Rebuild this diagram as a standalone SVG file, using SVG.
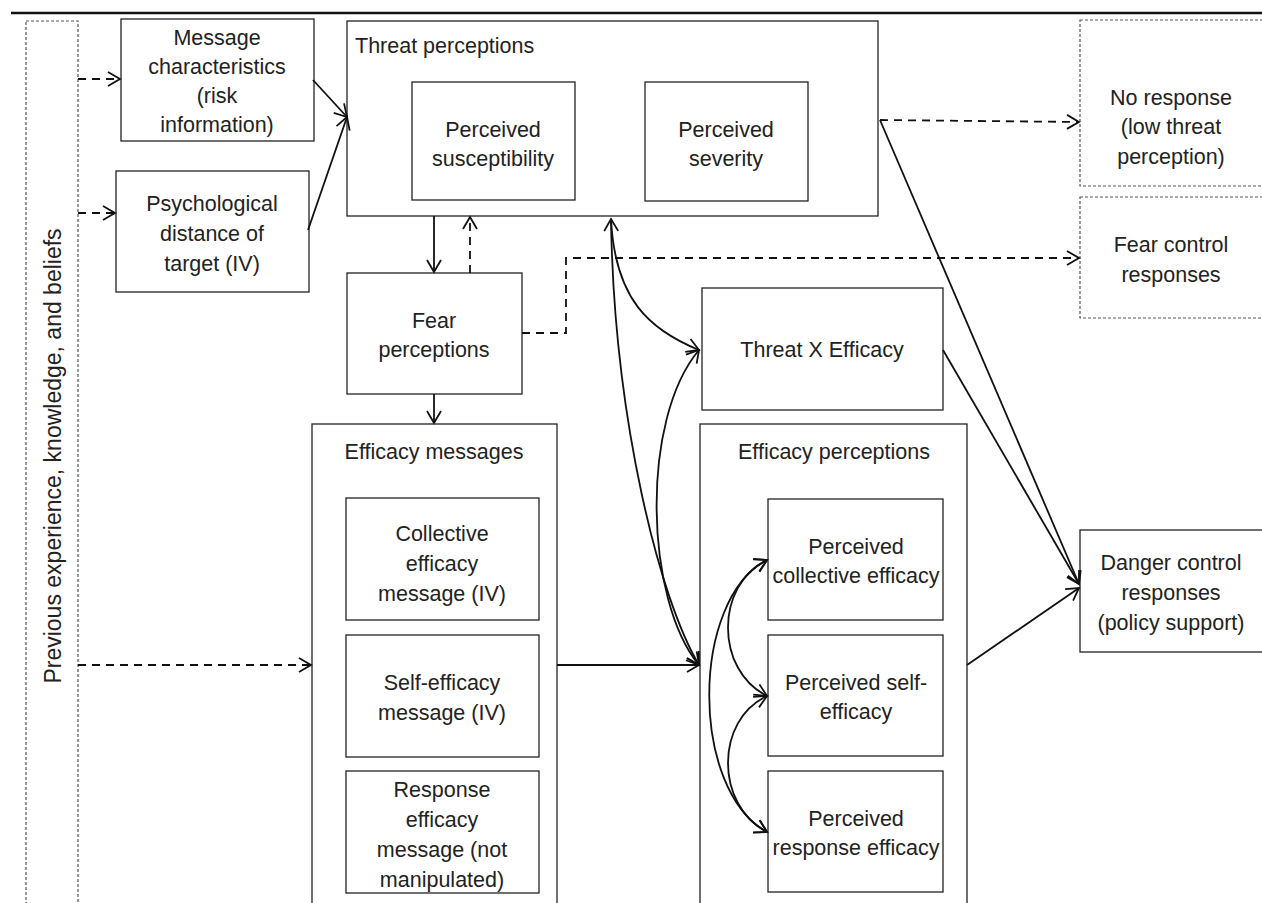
<svg xmlns="http://www.w3.org/2000/svg" width="1262" height="903" viewBox="0 0 1262 903">
<style>
.box{fill:#fff;stroke:#222;stroke-width:1.3}
.dbox{fill:#fff;stroke:#555;stroke-width:1.2;stroke-dasharray:3,2}
.t{font-family:"Liberation Sans",Arial,sans-serif;font-size:21.5px;fill:#222;text-anchor:middle}
.tl{font-family:"Liberation Sans",Arial,sans-serif;font-size:21.5px;fill:#222}
.ln{fill:none;stroke:#111;stroke-width:1.8}
.dl{fill:none;stroke:#111;stroke-width:1.8;stroke-dasharray:8,6}
</style>
<defs>
<marker id="ah" markerUnits="userSpaceOnUse" markerWidth="16" markerHeight="18" refX="13" refY="8" orient="auto-start-reverse" overflow="visible">
<path d="M1,1 L13,8 L1,15" fill="none" stroke="#111" stroke-width="1.8"/>
</marker>
</defs>
<rect width="1262" height="903" fill="#fff"/>
<line x1="11" y1="13" x2="1262" y2="13" stroke="#111" stroke-width="2.5"/>

<g id="prev">
<rect class="dbox" x="26" y="21" width="52" height="900"/>
<text class="t" style="font-size:23px" transform="translate(61,456) rotate(-90)">Previous experience, knowledge, and beliefs</text>
</g>
<g id="msgchar">
<rect class="box" x="121" y="19" width="193" height="122"/>
<text class="t" x="217" y="45">Message</text>
<text class="t" x="217" y="74">characteristics</text>
<text class="t" x="217" y="103">(risk</text>
<text class="t" x="217" y="132">information)</text>
</g>
<g id="psych">
<rect class="box" x="116" y="171" width="193" height="121"/>
<text class="t" x="212" y="211">Psychological</text>
<text class="t" x="212" y="241">distance of</text>
<text class="t" x="212" y="271">target (IV)</text>
</g>
<g id="threat">
<rect class="box" x="347" y="21" width="531" height="195"/>
<text class="tl" x="355" y="53">Threat perceptions</text>
<rect class="box" x="412" y="82" width="163" height="118"/>
<text class="t" x="493" y="137">Perceived</text>
<text class="t" x="493" y="166">susceptibility</text>
<rect class="box" x="645" y="82" width="163" height="119"/>
<text class="t" x="726" y="137">Perceived</text>
<text class="t" x="726" y="166">severity</text>
</g>
<g id="noresp">
<rect class="dbox" x="1080" y="20" width="200" height="166"/>
<text class="t" x="1171" y="105">No response</text>
<text class="t" x="1171" y="134">(low threat</text>
<text class="t" x="1171" y="164">perception)</text>
</g>
<g id="fearctrl">
<rect class="dbox" x="1080" y="197" width="200" height="121"/>
<text class="t" x="1171" y="252">Fear control</text>
<text class="t" x="1171" y="282">responses</text>
</g>
<g id="fear">
<rect class="box" x="347" y="273" width="175" height="121"/>
<text class="t" x="434" y="328">Fear</text>
<text class="t" x="434" y="357">perceptions</text>
</g>
<g id="txe">
<rect class="box" x="702" y="288" width="241" height="122"/>
<text class="t" x="822" y="357">Threat X Efficacy</text>
</g>
<g id="effmsg">
<rect class="box" x="312" y="424" width="245" height="500"/>
<text class="t" x="434" y="459">Efficacy messages</text>
<rect class="box" x="346" y="498" width="193" height="122"/>
<text class="t" x="442" y="541">Collective</text>
<text class="t" x="442" y="571">efficacy</text>
<text class="t" x="442" y="601">message (IV)</text>
<rect class="box" x="346" y="635" width="193" height="122"/>
<text class="t" x="442" y="690">Self-efficacy</text>
<text class="t" x="442" y="720">message (IV)</text>
<rect class="box" x="346" y="771" width="193" height="122"/>
<text class="t" x="442" y="797">Response</text>
<text class="t" x="442" y="827">efficacy</text>
<text class="t" x="442" y="857">message (not</text>
<text class="t" x="442" y="887">manipulated)</text>
</g>
<g id="effperc">
<rect class="box" x="700" y="424" width="267" height="500"/>
<text class="t" x="834" y="459">Efficacy perceptions</text>
<rect class="box" x="768" y="499" width="175" height="121"/>
<text class="t" x="856" y="554">Perceived</text>
<text class="t" x="856" y="583">collective efficacy</text>
<rect class="box" x="768" y="635" width="175" height="121"/>
<text class="t" x="856" y="690">Perceived self-</text>
<text class="t" x="856" y="719">efficacy</text>
<rect class="box" x="768" y="771" width="175" height="121"/>
<text class="t" x="856" y="826">Perceived</text>
<text class="t" x="856" y="855">response efficacy</text>
</g>
<g id="danger">
<rect class="box" x="1080" y="530" width="200" height="122"/>
<text class="t" x="1171" y="570">Danger control</text>
<text class="t" x="1171" y="600">responses</text>
<text class="t" x="1171" y="630">(policy support)</text>
</g>

<g id="connectors">
<line class="dl" x1="78" y1="79" x2="120" y2="79" marker-end="url(#ah)"/>
<line class="dl" x1="78" y1="213" x2="115" y2="213" marker-end="url(#ah)"/>
<line class="dl" x1="78" y1="665" x2="311" y2="665" marker-end="url(#ah)"/>
<line class="ln" x1="313" y1="80" x2="347" y2="117" marker-end="url(#ah)"/>
<line class="ln" x1="308" y1="230" x2="347" y2="117" marker-end="url(#ah)"/>
<line class="ln" x1="434" y1="216" x2="434" y2="272" marker-end="url(#ah)"/>
<line class="dl" x1="470" y1="273" x2="470" y2="217" marker-end="url(#ah)"/>
<line class="ln" x1="434" y1="394" x2="434" y2="423" marker-end="url(#ah)"/>
<polyline class="dl" points="522,333 566,333 566,258 1079,258" marker-end="url(#ah)"/>
<polyline class="dl" points="880,120 1079,122" marker-end="url(#ah)"/>
<line class="ln" x1="880" y1="120" x2="1079" y2="584" marker-end="url(#ah)"/>
<line class="ln" x1="943" y1="350" x2="1079" y2="584" marker-end="url(#ah)"/>
<line class="ln" x1="967" y1="665" x2="1079" y2="588" marker-end="url(#ah)"/>
<line class="ln" x1="557" y1="665" x2="699" y2="665" marker-end="url(#ah)"/>
<path class="ln" d="M611,219 C614,420 660,600 699,665" marker-start="url(#ah)" marker-end="url(#ah)"/>
<path class="ln" d="M611,219 C615,300 650,330 699,350" marker-end="url(#ah)"/>
<path class="ln" d="M699,350 C640,420 645,600 699,665" marker-start="url(#ah)" marker-end="url(#ah)"/>
<path class="ln" d="M767,560 C715,585 715,670 767,696" marker-start="url(#ah)" marker-end="url(#ah)"/>
<path class="ln" d="M767,696 C715,720 715,805 767,832" marker-start="url(#ah)" marker-end="url(#ah)"/>
<path class="ln" d="M767,560 C690,600 690,790 767,832" marker-start="url(#ah)" marker-end="url(#ah)"/>
</g>
</svg>
